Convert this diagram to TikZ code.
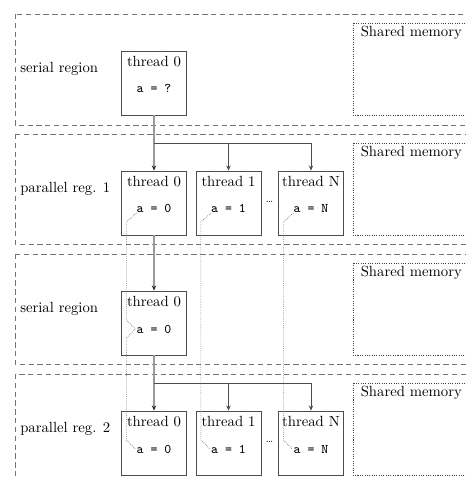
\documentclass[tikz,border=0pt]{standalone}
\usetikzlibrary{arrows.meta,calc}
\begin{document}
\begin{tikzpicture}[x=0.68pt,y=-0.68pt,
  region/.style={draw=black!55, line width=0.5pt, dash pattern=on 3.6pt off 2.4pt},
  shm/.style={draw=black!75, line width=0.5pt, dash pattern=on 0.7pt off 0.9pt},
  tbox/.style={draw=black!70, line width=0.6pt, minimum width=44.2pt, minimum height=43.5pt, inner sep=0pt},
  ttl/.style={anchor=base, inner sep=0pt},
  val/.style={anchor=base, inner sep=0pt, font=\small\ttfamily},
  lbl/.style={anchor=base west, inner sep=0pt},
  dotsep/.style={anchor=base, inner sep=0pt, font=\scriptsize},
  mainflow/.style={draw=black!40, line width=1.1pt, -{Stealth[length=3.5pt,width=3pt,black!85]}},
  fork/.style={draw=black!70, line width=0.5pt},
  branch/.style={draw=black!70, line width=0.5pt, -{Stealth[length=3.5pt,width=3pt]}},
  trace/.style={draw=black!55, line width=0.45pt, dash pattern=on 0.5pt off 0.8pt}
]
\useasboundingbox (0,0) rectangle (466,477);
\clip (0,0) rectangle (466,477);

% execution regions
\draw[region] (15,14) rectangle (490,125);
\draw[region] (15,134) rectangle (490,244);
\draw[region] (15,254) rectangle (490,364);
\draw[region] (15,374) rectangle (490,495);

% shared memory areas
\draw[shm] (353,23) rectangle (490,115);
\draw[shm] (353,143) rectangle (490,235);
\draw[shm] (353,263) rectangle (490,355);
\draw[shm] (353,383) rectangle (490,475);
\node[lbl] (sm1) at (360.5,36.5) {Shared memory};
\node[lbl] (sm2) at (360.5,156.5) {Shared memory};
\node[lbl] (sm3) at (360.5,276.5) {Shared memory};
\node[lbl] (sm4) at (360.5,396.5) {Shared memory};

% region labels
\node[lbl] (l1) at (20,72.5) {serial region};
\node[lbl] (l2) at (20,192.5) {parallel reg. 1};
\node[lbl] (l3) at (20,312.5) {serial region};
\node[lbl] (l4) at (20,432.5) {parallel reg. 2};

% serial region
\node[tbox] (b1) at (154,83) {};
\node[ttl] (t1) at (154,66.5) {thread 0};
\node[val] (v1) at (154,93) {a = ?};

% parallel region 1
\node[tbox] (b21) at (154,203) {};
\node[tbox] (b22) at (228.5,203) {};
\node[tbox] (b2n) at (311,203) {};
\node[ttl] (t21) at (154,186.5) {thread 0};
\node[ttl] (t22) at (228.5,186.5) {thread 1};
\node[ttl] (t2n) at (311,186.5) {thread N};
\node[val] (v21) at (154,213) {a = 0};
\node[val] (v22) at (228.5,213) {a = 1};
\node[val] (v2n) at (311,213) {a = N};
\node[dotsep] (d2) at (269.5,202.5) {\ldots};

% serial region
\node[tbox] (b3) at (154,323) {};
\node[ttl] (t3) at (154,306.5) {thread 0};
\node[val] (v3) at (154,333) {a = 0};

% parallel region 2
\node[tbox] (b41) at (154,443) {};
\node[tbox] (b42) at (228.5,443) {};
\node[tbox] (b4n) at (311,443) {};
\node[ttl] (t41) at (154,426.5) {thread 0};
\node[ttl] (t42) at (228.5,426.5) {thread 1};
\node[ttl] (t4n) at (311,426.5) {thread N};
\node[val] (v41) at (154,453) {a = 0};
\node[val] (v42) at (228.5,453) {a = 1};
\node[val] (v4n) at (311,453) {a = N};
\node[dotsep] (d4) at (269.5,442.5) {\ldots};

% fork points
\coordinate (fork1) at (154,143);
\coordinate (fork2) at (154,383);

% master thread flow
\draw[mainflow] (b1.south) -- (b21.north);
\draw[mainflow] (b21.south) -- (b3.north);
\draw[mainflow] (b3.south) -- (b41.north);

% forks into worker threads
\draw[fork] (fork1) -- (fork1 -| b2n);
\draw[branch] (fork1 -| b22) -- (b22.north);
\draw[branch] (fork1 -| b2n) -- (b2n.north);
\draw[fork] (fork2) -- (fork2 -| b4n);
\draw[branch] (fork2 -| b42) -- (b42.north);
\draw[branch] (fork2 -| b4n) -- (b4n.north);

% private values carried between regions
\draw[trace] (v21.base west) -- ++(-10,9)
  -- ($(v3.west)+(-10,-9)$) -- ($(v3.west)+(-1,0)$) -- ($(v3.west)+(-10,9)$)
  -- ($(v41.west)+(-10,-9)$) -- ($(v41.west)+(-1,0)$);
\draw[trace] (v22.base west) -- ++(-10,9)
  -- ($(v42.west)+(-10,-9)$) -- ($(v42.west)+(-1,0)$);
\draw[trace] (v2n.base west) -- ++(-10,9)
  -- ($(v4n.west)+(-10,-9)$) -- ($(v4n.west)+(-1,0)$);
\end{tikzpicture}
\end{document}
